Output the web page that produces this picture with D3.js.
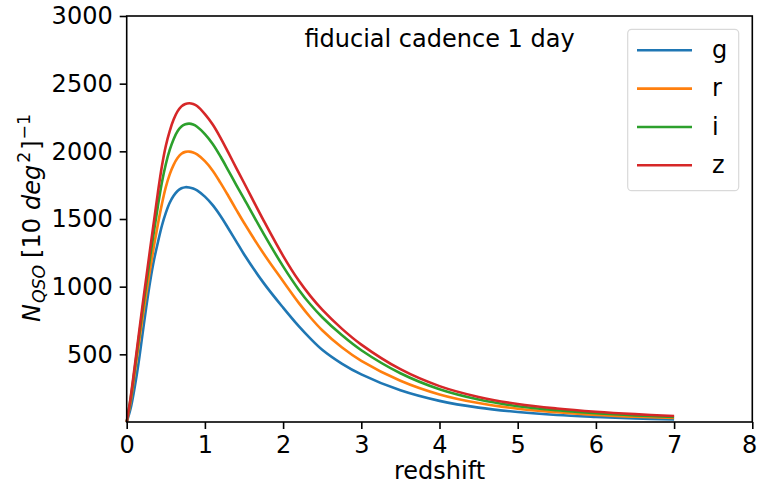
<!DOCTYPE html>
<html>
<head>
<meta charset="utf-8">
<script src="https://cdn.jsdelivr.net/npm/d3@7"></script>
<style>
  html, body { margin: 0; padding: 0; background: #fff; }
  svg { display: block; }
  text { font-family: "DejaVu Sans", sans-serif; fill: #000; }
</style>
</head>
<body>
<svg id="chart" width="757" height="485"></svg>
<script>
// ---- data ----
const redshift = [0, 0.05, 0.1, 0.15, 0.2, 0.25, 0.3, 0.35, 0.4, 0.45, 0.5, 0.55, 0.6, 0.65, 0.7, 0.75, 0.8, 0.85, 0.9, 1.0, 1.1, 1.2, 1.3, 1.4, 1.5, 1.75, 2.0, 2.2, 2.35, 2.5, 2.75, 3.0, 3.5, 4.0, 4.5, 5.0, 5.5, 6.0, 6.5, 7.0];
const nG = [0, 100, 250, 430, 640, 850, 1040, 1200, 1330, 1450, 1545, 1620, 1672, 1707, 1727, 1735, 1733, 1726, 1712, 1665, 1602, 1522, 1430, 1335, 1240, 1028, 845, 708, 616, 534, 432, 352, 234, 156, 106, 74, 52, 38, 27, 18];
const nR = [0, 150, 350, 555, 760, 950, 1130, 1305, 1465, 1610, 1735, 1830, 1900, 1950, 1982, 1996, 1998, 1991, 1977, 1927, 1857, 1767, 1670, 1570, 1472, 1245, 1040, 880, 772, 678, 552, 452, 305, 204, 140, 98, 72, 52, 39, 29];
const nI = [0, 170, 380, 600, 815, 1020, 1220, 1415, 1600, 1770, 1905, 2010, 2090, 2148, 2183, 2200, 2205, 2198, 2182, 2128, 2055, 1962, 1858, 1752, 1650, 1392, 1150, 978, 868, 774, 642, 530, 360, 242, 166, 117, 87, 65, 49, 37];
const nZ = [0, 180, 400, 625, 850, 1065, 1280, 1490, 1700, 1890, 2040, 2150, 2235, 2295, 2332, 2350, 2355, 2350, 2335, 2275, 2198, 2100, 1990, 1878, 1768, 1490, 1228, 1045, 930, 830, 690, 572, 390, 265, 185, 133, 100, 76, 58, 44];
const seriesNames = ["g", "r", "i", "z"];
const seriesValues = [nG, nR, nI, nZ];
const seriesColors = ["#1f77b4", "#ff7f0e", "#2ca02c", "#d62728"];
const xTicks = [0, 1, 2, 3, 4, 5, 6, 7, 8];
const yTicks = [500, 1000, 1500, 2000, 2500, 3000];
const titleText = "fiducial cadence 1 day";
const xLabelText = "redshift";

// ---- layout ----
const svg = d3.select("#chart");
const L = 126.7, R = 752.3, T = 16, B = 422;
const x = d3.scaleLinear().domain([0, 8]).range([L, R]);
const y = d3.scaleLinear().domain([0, 3000]).range([B, T]);
const FS = 24;

svg.append("rect").attr("width", 757).attr("height", 485).attr("fill", "#fff");

// curves
const line = d3.line()
  .x(d => x(d[0]))
  .y(d => y(d[1]))
  .curve(d3.curveCatmullRom.alpha(0.5));

seriesValues.forEach((vals, k) => {
  const pts = redshift.map((z, i) => [z, vals[i]]);
  svg.append("path")
    .attr("d", line(pts))
    .attr("fill", "none")
    .attr("stroke", seriesColors[k])
    .attr("stroke-width", 2.6)
    .attr("stroke-linejoin", "round")
    .attr("stroke-linecap", "butt");
});

// axes
const xAxis = d3.axisBottom(x).tickValues(xTicks).tickFormat(d3.format("d")).tickSize(7).tickPadding(7);
const yAxis = d3.axisLeft(y).tickValues(yTicks).tickFormat(d3.format("d")).tickSize(7).tickPadding(7);

const gx = svg.append("g").attr("transform", `translate(0,${B})`).call(xAxis);
const gy = svg.append("g").attr("transform", `translate(${L},0)`).call(yAxis);
[gx, gy].forEach(g => {
  g.select(".domain").remove();
  g.selectAll(".tick line").attr("stroke", "#000").attr("stroke-width", 1.6);
  g.selectAll(".tick text").attr("font-family", "DejaVu Sans").attr("font-size", FS).attr("fill", "#000");
});
// keep the last x label inside the picture
gx.selectAll(".tick text").filter(d => d === 8).attr("text-anchor", "end").attr("x", 4.5);

// frame
svg.append("rect")
  .attr("x", L).attr("y", T).attr("width", R - L).attr("height", B - T)
  .attr("fill", "none").attr("stroke", "#000").attr("stroke-width", 1.6);

// title
svg.append("text")
  .attr("x", 439.5).attr("y", 47)
  .attr("text-anchor", "middle")
  .attr("font-size", FS)
  .text(titleText);

// x label
svg.append("text")
  .attr("x", (L + R) / 2).attr("y", 479)
  .attr("text-anchor", "middle")
  .attr("font-size", FS)
  .text(xLabelText);

// y label (mathtext-like)
const yl = svg.append("text")
  .attr("transform", "translate(40,218) rotate(-90)")
  .attr("text-anchor", "middle")
  .attr("font-size", FS);
yl.append("tspan").attr("font-style", "italic").text("N");
yl.append("tspan").attr("font-style", "italic").attr("font-size", FS * 0.72).attr("dx", 1).attr("dy", 5).text("QSO");
yl.append("tspan").attr("dx", 7).attr("dy", -5).text("[10");
yl.append("tspan").attr("dx", 8).attr("font-style", "italic").text("deg");
yl.append("tspan").attr("font-size", FS * 0.72).attr("dx", 2).attr("dy", -10).text("2");
yl.append("tspan").attr("dx", 2).attr("dy", 10).text("]");
yl.append("tspan").attr("font-size", FS * 0.72).attr("dx", 1).attr("dy", -10).text("\u22121");

// legend
const lg = svg.append("g");
lg.append("rect")
  .attr("x", 627.7).attr("y", 29.3).attr("width", 111).attr("height", 161.4)
  .attr("rx", 4).attr("ry", 4)
  .attr("fill", "#fff").attr("fill-opacity", 0.8)
  .attr("stroke", "#d9d9d9").attr("stroke-width", 1.2);
const legY = d3.scalePoint().domain(seriesNames).range([50.3, 165.3]);
seriesNames.forEach((name, k) => {
  lg.append("line")
    .attr("x1", 637).attr("x2", 692)
    .attr("y1", legY(name)).attr("y2", legY(name))
    .attr("stroke", seriesColors[k]).attr("stroke-width", 2.6);
  lg.append("text")
    .attr("x", 712).attr("y", legY(name))
    .attr("dy", "0.32em")
    .attr("font-size", FS)
    .text(name);
});
</script>
</body>
</html>
